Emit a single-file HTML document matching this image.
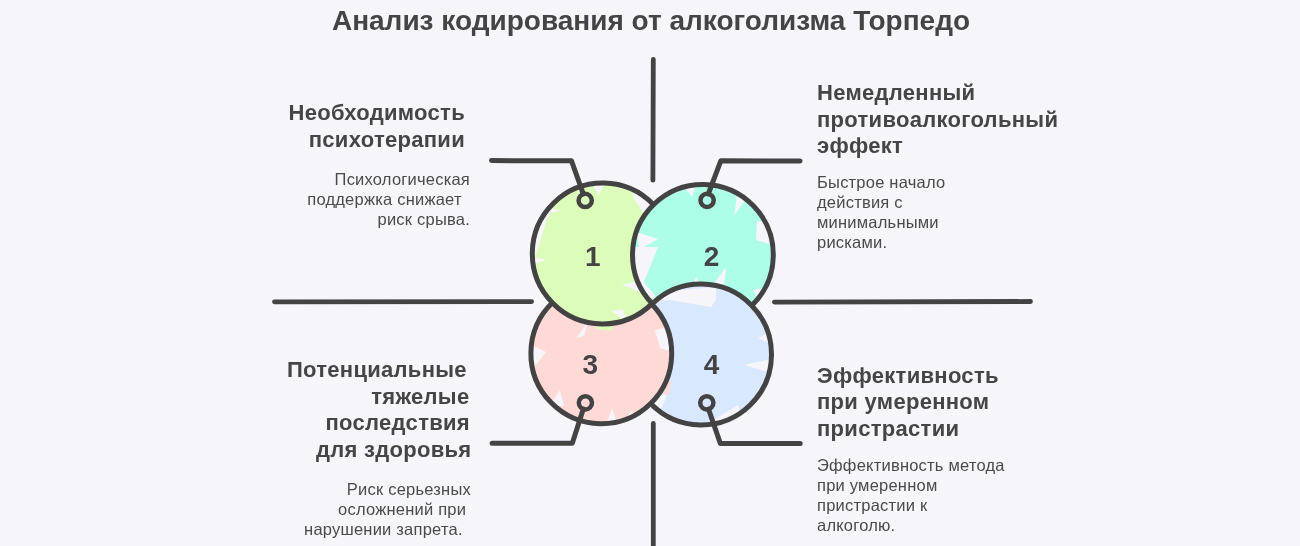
<!DOCTYPE html>
<html><head><meta charset="utf-8">
<style>
html,body{margin:0;padding:0;background:#f6f5fa;}
body{width:1300px;height:546px;overflow:hidden;position:relative;}
svg{position:absolute;left:0;top:0;will-change:transform;}
text{font-family:"Liberation Sans",sans-serif;}
.t{font-size:28px;font-weight:bold;fill:#444444;}
.h{font-size:22px;font-weight:bold;fill:#454545;letter-spacing:0.3px;}
.b{font-size:16.5px;fill:#4a4a4a;letter-spacing:0.22px;}
</style></head>
<body>
<svg width="1300" height="546" viewBox="0 0 1300 546">
<defs>
  <clipPath id="c2clip"><circle cx="703" cy="254" r="72.5"/></clipPath>
</defs>
<text class="t" x="651" y="29.5" text-anchor="middle">Анализ кодирования от алкоголизма Торпедо</text>

<!-- axis lines -->
<g stroke="#434343" stroke-width="4.8" stroke-linecap="round" fill="none">
  <path d="M653.3 59.4 L652.9 180.2"/>
  <path d="M653.3 423.4 L653.3 550"/>
  <path d="M274.5 301.8 L531.6 301.6"/>
  <path d="M774.4 302.1 L1030.5 301.5"/>
</g>
<!-- circles -->

<defs><clipPath id="clip4"><circle cx="701.1" cy="354.5" r="72.4"/></clipPath><clipPath id="cc1"><circle cx="602.7" cy="253.5" r="70.4" /></clipPath><clipPath id="cc2"><circle cx="702.9" cy="254.9" r="70.4" /></clipPath><clipPath id="cc3"><circle cx="601.3" cy="353.3" r="70.4" /></clipPath><clipPath id="cc4"><circle cx="701.1" cy="354.5" r="70.4" /></clipPath></defs>
<g fill="#ffd9d6"><circle cx="601.3" cy="353.3" r="70.4" /></g><g fill="#f6f5fa" clip-path="url(#cc3)"><polygon points="576,338 588,322 584,336"/><polygon points="655,330 674,325 674,352 660,348"/><polygon points="528,343 546,352 535,366 528,366"/><polygon points="550,405 560,390 564,406"/><polygon points="606,425 612,408 618,425"/><polygon points="624,425 631,410 636,425"/></g><g fill="#dcfdb9"><circle cx="602.7" cy="253.5" r="70.4" /></g><g fill="#f6f5fa" clip-path="url(#cc1)"><polygon points="536,255 546,222 553,207 562,188 530,188 530,255"/><polygon points="548,208 562,210.5 549,213"/><polygon points="592,184 604,184 599,195"/><polygon points="632,190 655,190 655,215 642,212 638,204 634,200"/><polygon points="640,280 622,285 640,292"/><polygon points="530,256 546,260 530,265"/><polygon points="611,311 627,322 623,309"/></g><g fill="#adfee6"><circle cx="702.9" cy="254.9" r="70.4" /></g><g fill="#f6f5fa" clip-path="url(#cc2)"><polygon points="682,184 696,184 692,197"/><polygon points="738,190 748,195 734,216"/><polygon points="757,221 776,222 776,246 756,240"/><polygon points="636,232 658,239 640,249"/><polygon points="630,247 658,247 644,282 657,298 630,298"/><polygon points="686,295 697,276 701,295"/><polygon points="712,286 726,267 724,286"/><polygon points="776,286 753,290 760,302 776,304"/></g><g fill="#d8e8ff"><circle cx="701.1" cy="354.5" r="70.4" /></g><g fill="#f6f5fa" clip-path="url(#cc4)"><polygon points="655,292 716,287 716,300 711,307 670,300 655,300"/><polygon points="775,330 758,338 775,346"/><polygon points="775,358 744,365 775,374"/><polygon points="700,428 738,405 745,428"/><polygon points="640,390 667,395 660,412 640,412"/></g><g clip-path="url(#clip4)"><g fill="#ffd9d6"><circle cx="601.3" cy="353.3" r="70.4" /></g><g fill="#f6f5fa" clip-path="url(#cc3)"><polygon points="576,338 588,322 584,336"/><polygon points="655,330 674,325 674,352 660,348"/><polygon points="528,343 546,352 535,366 528,366"/><polygon points="550,405 560,390 564,406"/><polygon points="606,425 612,408 618,425"/><polygon points="624,425 631,410 636,425"/></g></g><polygon fill="#dcfdb9" points="592,322 614,321 611,331 596,329"/><polygon fill="#ffd9d6" points="664,383 671,381 669,395 661,393"/>
<g fill="none" stroke="#434343" stroke-width="5" stroke-linecap="butt">
<path d="M652.11 303.65 A70.4 70.4 0 1 1 653.49 204.75"/><path d="M652.26 303.80 A70.4 70.4 0 1 1 751.74 305.60"/><path d="M651.65 304.10 A70.4 70.4 0 1 1 552.35 302.70"/><path d="M651.80 304.25 A70.4 70.4 0 1 1 650.60 403.55"/>
</g>

<!-- connectors -->
<g stroke="#434343" stroke-width="5" stroke-linecap="round" stroke-linejoin="round" fill="none">
  <path d="M491.5 160.6 L571.5 160.8 L583.3 194"/>
  <path d="M800.1 161 L720.8 160.8 L708.3 194"/>
  <path d="M492.1 443.2 L572.3 443.2 L583.3 409"/>
  <path d="M800.2 443.4 L720.3 443.4 L708.5 409"/>
</g>
<g stroke="#434343" stroke-width="4.5" fill="none">
  <circle cx="585.2" cy="200.4" r="6.6"/>
  <circle cx="707.1" cy="200.3" r="6.6"/>
  <circle cx="585.4" cy="402.8" r="6.6"/>
  <circle cx="706.8" cy="402.8" r="6.6"/>
</g>
<!-- numbers -->
<g class="t" text-anchor="middle">
  <text x="592.7" y="265.8">1</text>
  <text x="711.5" y="265.8">2</text>
  <text x="590.3" y="373.6">3</text>
  <text x="711.5" y="373.8">4</text>
</g>
<!-- block 1 -->
<g text-anchor="end">
  <text class="h" x="465" y="120.4">Необходимость</text>
  <text class="h" x="465" y="146.8">психотерапии</text>
  <text class="b" x="470" y="185.1">Психологическая</text>
  <text class="b" x="466.5" y="205.1" xml:space="preserve">поддержка снижает </text>
  <text class="b" x="470" y="225.1">риск срыва.</text>
</g>
<!-- block 2 -->
<g>
  <text class="h" x="817" y="100.4">Немедленный</text>
  <text class="h" x="817" y="126.8">противоалкогольный</text>
  <text class="h" x="817" y="153.2">эффект</text>
  <text class="b" x="817" y="188.1">Быстрое начало</text>
  <text class="b" x="817" y="208.1">действия с</text>
  <text class="b" x="817" y="228.1">минимальными</text>
  <text class="b" x="817" y="248.1">рисками.</text>
</g>
<!-- block 3 -->
<g text-anchor="end">
  <text class="h" x="473.3" y="377" xml:space="preserve">Потенциальные </text>
  <text class="h" x="469.5" y="403.6">тяжелые</text>
  <text class="h" x="470" y="430.2">последствия</text>
  <text class="h" x="471.5" y="456.8">для здоровья</text>
  <text class="b" x="471" y="495">Риск серьезных</text>
  <text class="b" x="471" y="515" xml:space="preserve">осложнений при </text>
  <text class="b" x="467.5" y="535" xml:space="preserve">нарушении запрета. </text>
</g>
<!-- block 4 -->
<g>
  <text class="h" x="817" y="383">Эффективность</text>
  <text class="h" x="817" y="409.4">при умеренном</text>
  <text class="h" x="817" y="435.8">пристрастии</text>
  <text class="b" x="817" y="471">Эффективность метода</text>
  <text class="b" x="817" y="491">при умеренном</text>
  <text class="b" x="817" y="511">пристрастии к</text>
  <text class="b" x="817" y="531">алкоголю.</text>
</g>
</svg>
</body></html>
